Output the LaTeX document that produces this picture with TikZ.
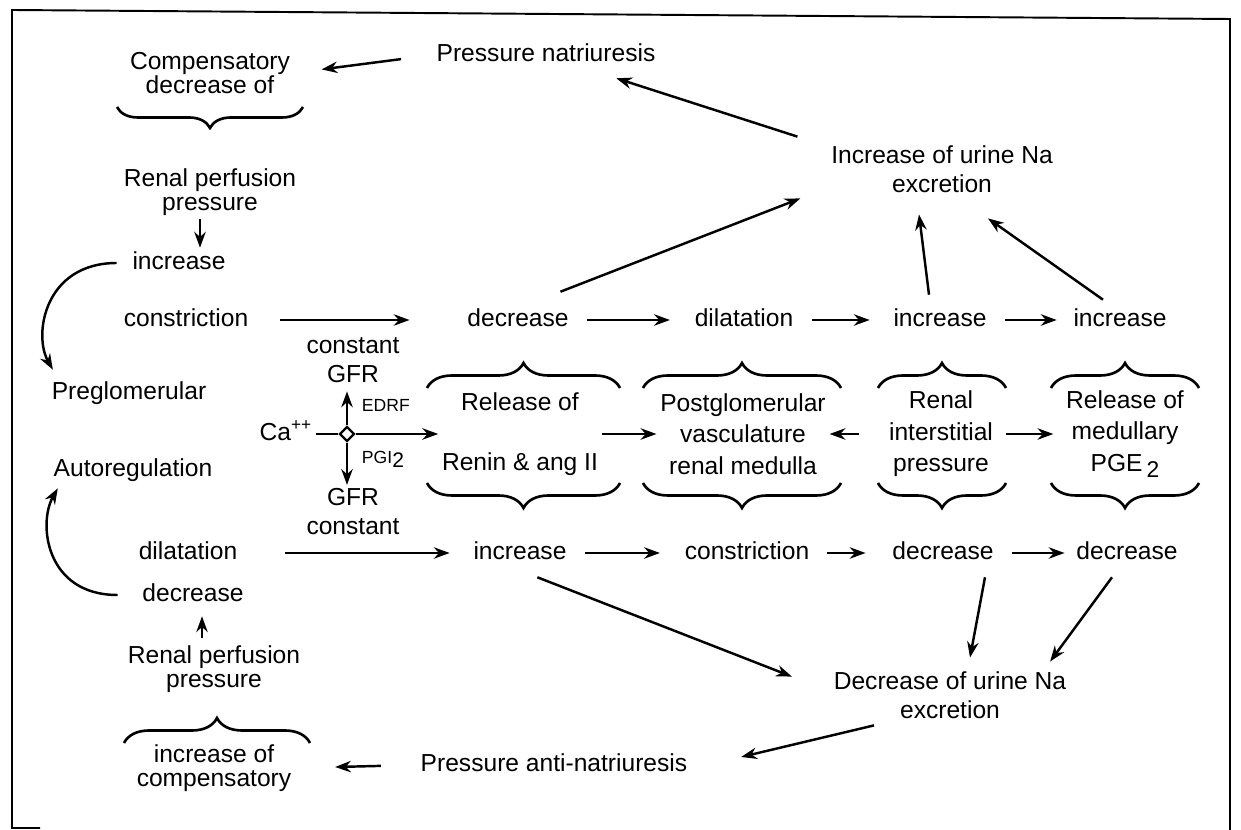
\documentclass[tikz,border=0pt]{standalone}
\usepackage{fontspec}
\setmainfont{Liberation Sans}
\usepackage{tikz}
\usetikzlibrary{arrows.meta,shapes.geometric,positioning,decorations.pathreplacing}
\newcommand{\lowtwo}[1]{\raisebox{-0.45ex}{\fontsize{#1}{#1}\selectfont 2}}

\begin{document}
\begin{tikzpicture}[x=0.02cm,y=-0.02cm,
    every node/.style={font=\fontsize{14}{16.5}\selectfont,align=center,inner sep=2pt},
    word/.style={text height=10pt,text depth=3pt},
    tight/.style={font=\fontsize{14}{13.5}\selectfont},
    col/.style={font=\fontsize{14}{18}\selectfont},
    tag/.style={font=\fontsize{10}{12}\selectfont,inner sep=1pt},
    arr/.style={-{Stealth[length=9pt,width=6.5pt]},line width=1.4pt},
    flow/.style={arr,shorten <=0.3cm,shorten >=0.38cm},
    brc/.style={decorate,decoration={brace,amplitude=0.5cm},line width=1.5pt}]
  \useasboundingbox (0,0) rectangle (1241,830);
  \draw[line width=1.1pt] (40,828) -- (12,828) -- (12,10) -- (1230,19) -- (1230,830);

  % left column
  \node[tight] (compdec) at (210,73) {Compensatory\\decrease of};
  \draw[brc,decoration={brace,amplitude=0.42cm}] (303,107) -- (117,107);
  \node[tight] (rpp1) at (210,192) {Renal perfusion\\pressure};
  \node[word] (inc1) at (179,263) {increase};
  \node[word] (constr) at (186,320) {constriction};
  \node[word] (preglom) at (129,393) {Preglomerular};
  \node[word] (autoreg) at (133,470) {Autoregulation};
  \node[word] (dilat1) at (188,553) {dilatation};
  \node[word] (decl) at (193,595) {decrease};
  \node[tight] (rpp2) at (214,669) {Renal perfusion\\pressure};
  \draw[brc] (124,743) -- (310,743);
  \node[tight] (inccomp) at (214,768) {increase of\\compensatory};

  % natriuresis
  \node[word] (pnat) at (546,55) {Pressure natriuresis};
  \node (incurine) at (942,169) {Increase of urine Na\\excretion};
  \node (decurine) at (950,695) {Decrease of urine Na\\excretion};
  \node[word] (pan) at (554,765) {Pressure anti-natriuresis};

  % upper row
  \node[word] (dec1) at (518,320) {decrease};
  \node[word] (dilat2) at (744,320) {dilatation};
  \node[word] (inc2) at (940,320) {increase};
  \node[word] (inc3) at (1120,320) {increase};

  % lower row
  \node[word] (incb) at (520,553) {increase};
  \node[word] (constr2) at (747,553) {constriction};
  \node[word] (dec3) at (943,553) {decrease};
  \node[word] (dec4) at (1127,553) {decrease};

  % Ca++ cross
  \node[word,anchor=east] (ca) at (316,434) {Ca\textsuperscript{++}};
  \node[draw,fill=white,diamond,minimum size=0.3cm,inner sep=0pt,line width=1.3pt]
    (junc) at (347,434) {};
  \node (cgfr) at (353,360) {constant\\GFR};
  \node (gfrc) at (353,512) {GFR\\constant};

  % braced mediators
  \node (rel) at (520,434) {Release of\\[18pt]Renin \& ang II};
  \node[col] (post) at (743,434) {Postglomerular\\vasculature\\renal medulla};
  \node[col] (ren) at (941,434) {Renal\\interstitial\\pressure};
  \node[col] (pge) at (1125,434) {Release of\\medullary\\PGE\,\lowtwo{13}};
  \draw[brc] (427,388) -- (620,388);
  \draw[brc] (643,388) -- (841,388);
  \draw[brc] (878,388) -- (1006,388);
  \draw[brc] (1051,388) -- (1199,388);
  \draw[brc] (620,483) -- (427,483);
  \draw[brc] (841,483) -- (643,483);
  \draw[brc] (1006,483) -- (878,483);
  \draw[brc] (1199,483) -- (1051,483);

  % arrows
  \draw[arr,shorten <=0.64cm,shorten >=0.56cm] (pnat.west) -- (compdec.east);
  \draw[arr] ([xshift=-0.6cm,yshift=0.1cm]incurine.north west)
    -- ([xshift=-0.86cm,yshift=-0.16cm]pnat.south east);
  \draw[arr] ([xshift=-0.2cm]rpp1.south) -- ([xshift=-0.2cm]rpp1.south |- inc1.north);
  \draw[arr] ([xshift=-0.24cm]inc1.west) .. controls +(-72,0) and +(-20,-35)
    .. ([xshift=0.1cm,yshift=0.16cm]preglom.north west);
  \draw[arr,shorten <=0.08cm,shorten >=0.12cm] ([xshift=-0.24cm]rpp2.north)
    -- ([xshift=-0.24cm]rpp2.north |- decl.south);
  \draw[arr] ([xshift=-0.42cm]decl.west) .. controls +(-72,0) and +(-20,35)
    .. ([xshift=0.16cm,yshift=-0.06cm]autoreg.south west);
  \draw[arr,shorten <=0.72cm,shorten >=0.8cm] (pan.west) -- (inccomp.east);
  \draw[arr] ([xshift=-1.52cm,yshift=-0.06cm]decurine.south)
    -- ([xshift=1cm,yshift=0.16cm]pan.east);

  \draw[flow,shorten <=0.56cm,shorten >=1.08cm] (constr) -- (dec1);
  \draw[flow,shorten >=0.42cm] (dec1) -- (dilat2);
  \draw[flow,shorten >=0.4cm] (dilat2) -- (inc2);
  \draw[flow,shorten >=0.26cm] (inc2) -- (inc3);
  \draw[arr] ([xshift=-0.24cm,yshift=0.26cm]dec1.north east)
    -- ([xshift=-0.54cm,yshift=-0.04cm]incurine.south west);
  \draw[arr] ([xshift=-0.22cm,yshift=0.2cm]inc2.north)
    -- ([xshift=-0.46cm,yshift=-0.36cm]incurine.south);
  \draw[arr] ([xshift=-0.34cm,yshift=0.1cm]inc3.north)
    -- ([xshift=0.92cm,yshift=-0.44cm]incurine.south);

  \draw[flow,shorten <=0.88cm,shorten >=0.4cm] (dilat1) -- (incb);
  \draw[flow,shorten >=0.42cm] (incb) -- (constr2);
  \draw[flow,shorten <=0.28cm,shorten >=0.46cm] (constr2) -- (dec3);
  \draw[flow,shorten >=0.16cm] (dec3) -- (dec4);
  \draw[arr] ([xshift=-0.66cm,yshift=-0.18cm]incb.south east)
    -- ([xshift=-0.76cm,yshift=-0.18cm]decurine.north west);
  \draw[arr] ([xshift=0.84cm,yshift=-0.18cm]dec3.south)
    -- ([xshift=0.4cm,yshift=0.2cm]decurine.north);
  \draw[arr] ([xshift=-0.3cm,yshift=-0.18cm]dec4.south)
    -- ([xshift=-0.4cm,yshift=0.12cm]decurine.north east);

  \draw[line width=1.4pt] (ca) -- (junc);
  \draw[arr,shorten >=0.1cm] (junc) -- (junc |- cgfr.south)
    node[tag,midway,right=0.24cm]{EDRF};
  \draw[arr] (junc) -- (junc |- gfrc.north)
    node[tag,pos=0.4,right=0.24cm]{PGI\lowtwo{12}};
  \draw[arr] (junc) -- (rel.west);
  \draw[arr] (rel.east) -- (post.west);
  \draw[arr,shorten <=0.52cm] (ren.west) -- (post.east);
  \draw[arr,shorten <=0.18cm,shorten >=0.18cm] (ren.east) -- (pge.west);
\end{tikzpicture}
\end{document}
